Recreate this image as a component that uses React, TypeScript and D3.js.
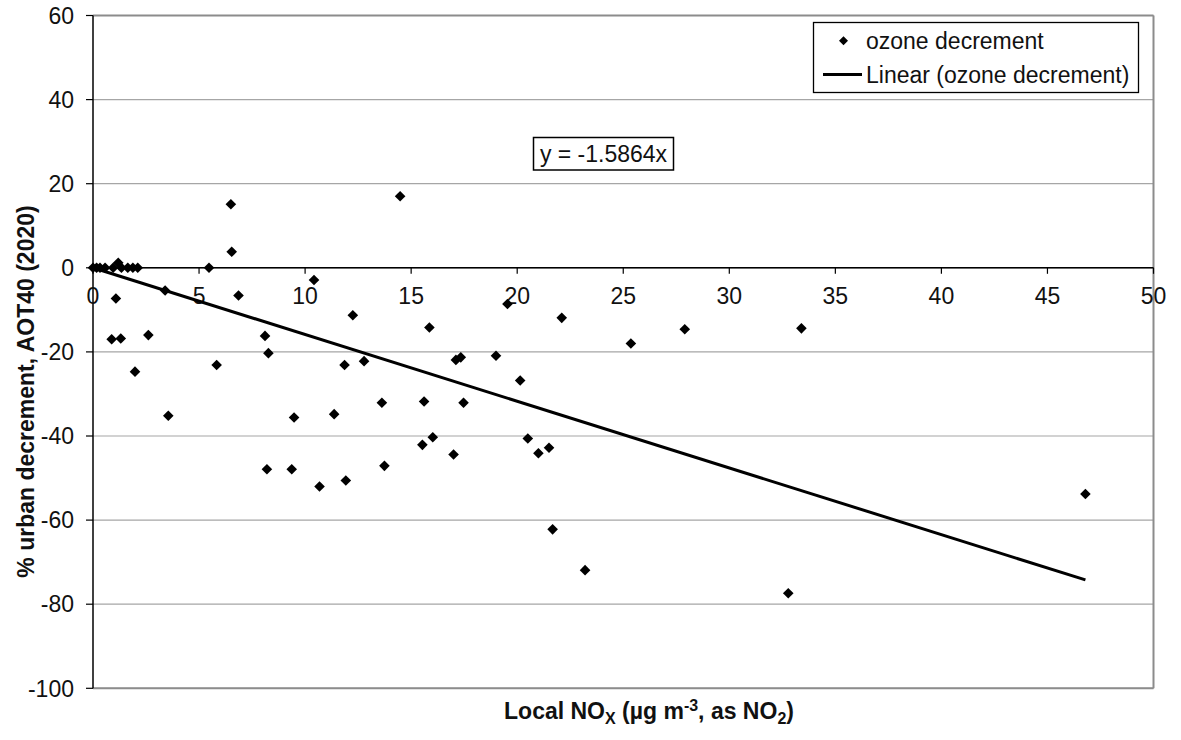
import React from "react";
import * as d3 from "d3";

const noxValues: number[] = [
  0, 0.17, 0.33, 0.57, 0.95, 1.19, 1.34, 1.64, 1.88, 2.11,
  5.47, 6.54, 6.5, 10.42, 3.4, 1.08, 6.86, 0.88, 1.31, 2.61,
  8.11, 8.27, 1.98, 5.83, 3.55, 9.48, 12.25, 15.86, 19.54, 11.86,
  12.78, 17.11, 17.34, 19.0, 20.14, 11.37, 13.62, 15.61, 17.47, 16.02,
  15.53, 17.0, 20.5, 21.0, 9.37, 13.74, 10.68, 11.92, 8.2, 14.48,
  22.1, 25.36, 27.9, 33.4, 21.5, 21.67, 23.2, 32.78, 46.79,
];
const decrementValues: number[] = [
  0, 0, 0, 0, 0, 1.2, 0, 0, 0, 0,
  0, 3.8, 15.1, -2.9, -5.4, -7.3, -6.6, -17.0, -16.8, -16.0,
  -16.2, -20.3, -24.7, -23.1, -35.2, -35.6, -11.3, -14.2, -8.6, -23.1,
  -22.2, -21.9, -21.3, -20.9, -26.8, -34.8, -32.1, -31.8, -32.1, -40.3,
  -42.1, -44.4, -40.6, -44.1, -47.9, -47.1, -52.0, -50.6, -47.9, 17.0,
  -11.9, -18.0, -14.6, -14.4, -42.8, -62.2, -71.9, -77.4, -53.8,
];
const slope = -1.5864;
const xTicks: number[] = [0, 5, 10, 15, 20, 25, 30, 35, 40, 45, 50];
const yTicks: number[] = [60, 40, 20, 0, -20, -40, -60, -80, -100];
const seriesName = "ozone decrement";
const trendName = "Linear (ozone decrement)";
const equationText = "y = -1.5864x";

const FONT = "'Liberation Sans', Arial, sans-serif";
const FS = 23;

export default function App() {
  const x = d3.scaleLinear().domain([0, 50]).range([93, 1153.5]);
  const y = d3.scaleLinear().domain([-100, 60]).range([688.3, 15.5]);
  const points = noxValues.map((v, i) => ({ x: v, y: decrementValues[i] }));
  const xMax = d3.max(noxValues) as number;
  const trend = d3
    .line<number>()
    .x((d) => x(d))
    .y((d) => y(slope * d))([0, xMax]);
  const diamond = (cx: number, cy: number, r = 5.3) =>
    `M${cx},${cy - r}L${cx + r},${cy}L${cx},${cy + r}L${cx - r},${cy}Z`;
  const [x0, x1] = x.range();
  const [yb, yt] = y.range();

  return (
    <svg
      width={1181}
      height={740}
      style={{ position: "absolute", left: 0, top: 0, background: "#fff" }}
      fontFamily={FONT}
    >
      <rect x={0} y={0} width={1181} height={740} fill="#fff" />
      {yTicks.map((t) => (
        <line key={"g" + t} x1={x0} x2={x1} y1={y(t)} y2={y(t)} stroke="#a6a6a6" strokeWidth={1.2} />
      ))}
      <line x1={x0} x2={x1} y1={yt} y2={yt} stroke="#8c8c8c" strokeWidth={2} />
      <line x1={x1} x2={x1} y1={yt} y2={yb} stroke="#8c8c8c" strokeWidth={2} />
      <line x1={x0} x2={x1} y1={yb} y2={yb} stroke="#8c8c8c" strokeWidth={2} />
      <line x1={x0} x2={x0} y1={yt} y2={yb} stroke="#000" strokeWidth={1.5} />
      {yTicks.map((t) => (
        <g key={"yt" + t}>
          <line x1={x0 - 7} x2={x0} y1={y(t)} y2={y(t)} stroke="#000" strokeWidth={1.2} />
          <text x={x0 - 19} y={y(t)} dy="0.36em" textAnchor="end" fontSize={FS} fill="#111">
            {t}
          </text>
        </g>
      ))}
      <line x1={x0} x2={x1} y1={y(0)} y2={y(0)} stroke="#000" strokeWidth={1.5} />
      {xTicks.map((t) => (
        <g key={"xt" + t}>
          <line x1={x(t)} x2={x(t)} y1={y(0)} y2={y(0) + 6} stroke="#000" strokeWidth={1.2} />
          <text x={x(t)} y={y(0) + 36} textAnchor="middle" fontSize={FS} fill="#111">
            {t}
          </text>
        </g>
      ))}
      <path d={trend || ""} fill="none" stroke="#000" strokeWidth={3} />
      {points.map((p, i) => (
        <path key={"p" + i} d={diamond(x(p.x), y(p.y))} fill="#000" />
      ))}
      <rect x={533.5} y={137.5} width={140} height={32.5} fill="#fff" stroke="#000" strokeWidth={1.5} />
      <text x={603.5} y={162} textAnchor="middle" fontSize={FS} fill="#111">
        {equationText}
      </text>
      <rect x={813.5} y={22.5} width={325} height={70} fill="#fff" stroke="#000" strokeWidth={1.3} />
      <path d={diamond(843.5, 40.7, 4.5)} fill="#000" />
      <text x={866} y={48.5} fontSize={FS} fill="#111">
        {seriesName}
      </text>
      <line x1={823} x2={862} y1={74.5} y2={74.5} stroke="#000" strokeWidth={3} />
      <text x={866} y={82.5} fontSize={FS} fill="#111">
        {trendName}
      </text>
      <text
        transform={`translate(${26},${391.5}) rotate(-90)`}
        textAnchor="middle"
        dy="0.36em"
        fontSize={FS}
        fontWeight="bold"
        fill="#111"
      >
        % urban decrement, AOT40 (2020)
      </text>
      <text x={649} y={719} textAnchor="middle" fontSize={FS} fontWeight="bold" fill="#111">
        Local NO
        <tspan fontSize={16} dy={5}>X</tspan>
        <tspan dy={-5}> (µg m</tspan>
        <tspan fontSize={16} dy={-8}>-3</tspan>
        <tspan dy={8}>, as NO</tspan>
        <tspan fontSize={16} dy={5}>2</tspan>
        <tspan dy={-5}>)</tspan>
      </text>
    </svg>
  );
}
